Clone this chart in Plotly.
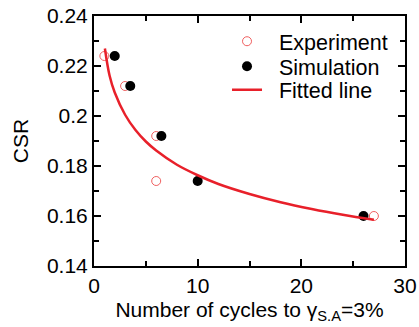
import plotly.graph_objects as go

# Data
exp_n = [1, 3, 6, 6, 27]
exp_csr = [0.224, 0.212, 0.192, 0.174, 0.160]

sim_n = [2, 3.5, 6.5, 10, 26]
sim_csr = [0.224, 0.212, 0.192, 0.174, 0.160]

fit_n = [1.05, 1.5, 2, 3, 4, 5, 6, 8, 10, 12, 15, 18, 21, 24, 27]
fit_csr = [0.2270, 0.2162, 0.2094, 0.2005, 0.1944, 0.1898, 0.1862, 0.1805,
           0.1763, 0.1728, 0.1688, 0.1655, 0.1628, 0.1605, 0.1585]

x_ticks = [0, 10, 20, 30]
y_ticks = [0.14, 0.16, 0.18, 0.2, 0.22, 0.24]

RED = "#e8202a"
FONT = "Liberation Sans, Arial, sans-serif"
NB = "\u00a0\u00a0"

fig = go.Figure()
fig.add_trace(go.Scatter(
    x=exp_n, y=exp_csr, mode="markers", name=NB + "Experiment", legend="legend",
    marker=dict(symbol="circle-open", size=9, color="#f06060", line=dict(width=1)),
))
fig.add_trace(go.Scatter(
    x=sim_n, y=sim_csr, mode="markers", name=NB + "Simulation", legend="legend2",
    marker=dict(symbol="circle", size=10, color="black"),
))
fig.add_trace(go.Scatter(
    x=fit_n, y=fit_csr, mode="lines", name=NB + "Fitted line", legend="legend3",
    line=dict(color=RED, width=2.5, shape="spline"),
))

axis_common = dict(
    showline=True, linecolor="black", linewidth=2, mirror="ticks",
    ticks="inside", ticklen=7, tickwidth=1.5, tickcolor="black",
    showgrid=False, zeroline=False, automargin=False,
    tickfont=dict(family=FONT, size=21, color="black"),
)

fig.update_xaxes(
    range=[0, 30], tickvals=x_ticks,
    minor=dict(ticks="inside", ticklen=5, dtick=5, tickwidth=1.5, tickcolor="black", showgrid=False),
    title=dict(text="Number of cycles to γ<sub>S.A</sub>=3%", font=dict(family=FONT, size=21, color="black"), standoff=6),
    **axis_common,
)
fig.update_yaxes(
    range=[0.14, 0.24], tickvals=y_ticks,
    minor=dict(ticks="inside", ticklen=5, dtick=0.01, tickwidth=1.5, tickcolor="black", showgrid=False),
    title=dict(text="CSR", font=dict(family=FONT, size=21, color="black"), standoff=13),
    **axis_common,
)

leg_common = dict(x=0.4277, xanchor="left", yanchor="middle",
                  font=dict(family=FONT, size=21.5, color="black"),
                  bgcolor="rgba(0,0,0,0)")

fig.update_layout(
    width=419, height=327,
    margin=dict(l=94, r=14, t=16, b=61, autoexpand=False),
    paper_bgcolor="white", plot_bgcolor="white",
    showlegend=True,
    legend=dict(y=0.899, **leg_common),
    legend2=dict(y=0.799, **leg_common),
    legend3=dict(y=0.705, **leg_common),
)

fig.write_html("out.html")
